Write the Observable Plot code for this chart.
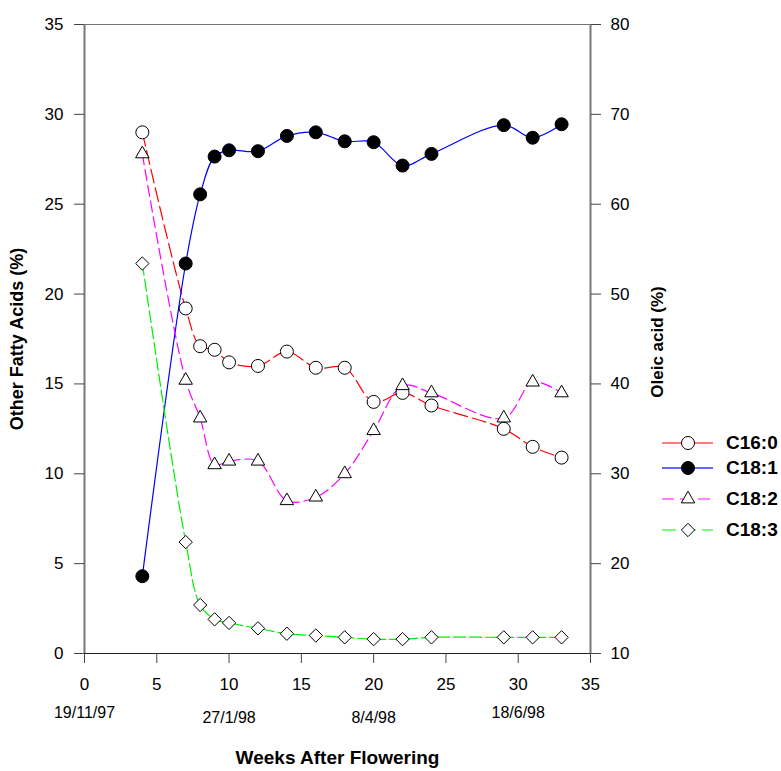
<!DOCTYPE html>
<html><head><meta charset="utf-8">
<script src="https://cdn.jsdelivr.net/npm/d3@7"></script>
<script src="https://cdn.jsdelivr.net/npm/@observablehq/plot@0.6"></script>
<style>
body{margin:0;background:#fff;font-family:Arial,"Liberation Sans",sans-serif;}
#wrap{position:relative;width:781px;height:771px;}
#legend{position:absolute;left:662px;top:0;font-family:Arial,"Liberation Sans",sans-serif;font-weight:bold;font-size:19px;color:#000;}
#legend .row{position:absolute;left:0;display:flex;align-items:center;height:20px;white-space:nowrap;}
#legend svg{display:block;margin-right:12px;}
</style></head><body><div id="wrap"></div>
<script>
// ---- data ----
const weeks = [4, 7, 8, 9, 10, 12, 14, 16, 18, 20, 22, 24, 29, 31, 33];
const c160 = [29.0, 19.2, 17.1, 16.9, 16.2, 16.0, 16.8, 15.9, 15.9, 14.0, 14.5, 13.8, 12.5, 11.5, 10.9];
const c181 = [18.6, 53.4, 61.1, 65.3, 66.0, 65.9, 67.6, 68.0, 67.0, 66.9, 64.3, 65.6, 68.8, 67.4, 68.9];
const c182 = [27.8, 15.2, 13.1, 10.5, 10.7, 10.7, 8.5, 8.7, 10.0, 12.4, 14.9, 14.5, 13.1, 15.1, 14.5];
const c183 = [21.7, 6.2, 2.7, 1.9, 1.7, 1.4, 1.1, 1.0, 0.9, 0.8, 0.8, 0.9, 0.9, 0.9, 0.9];
const xTicks = [0, 5, 10, 15, 20, 25, 30, 35];
const leftTicks = [0, 5, 10, 15, 20, 25, 30, 35];
const rightTicks = [10, 20, 30, 40, 50, 60, 70, 80];
const dateWeeks = [0, 10, 20, 30];
const dateLabels = ["19/11/97", "27/1/98", "8/4/98", "18/6/98"];
const seriesNames = ["C16:0", "C18:1", "C18:2", "C18:3"];

// right axis (oleic 10..80) mapped onto left axis (0..35)
const toLeft = v => (v - 10) / 2;
const fromLeft = v => v * 2 + 10;

const rows = (vals, f = d => d) => weeks.map((w, i) => ({w, v: f(vals[i])}));
const d160 = rows(c160), d181 = rows(c181, toLeft), d182 = rows(c182), d183 = rows(c183);
const dates = dateWeeks.map((w, i) => ({w, label: dateLabels[i]}));

const styles = {
  "C16:0": {stroke: "#ff0000", dash: "14,5", legendDash: null, symbol: "circle", r: 6.5, fill: "white"},
  "C18:1": {stroke: "#0000ff", dash: null, legendDash: null, symbol: "circle", r: 6.5, fill: "black"},
  "C18:2": {stroke: "#ff00ff", dash: "11,5", legendDash: "12,6", symbol: "triangle", r: 5, fill: "white"},
  "C18:3": {stroke: "#00ee00", dash: "12,4", legendDash: "14,6", symbol: "diamond2", r: 6, fill: "white"}
};
const dataBy = {"C16:0": d160, "C18:1": d181, "C18:2": d182, "C18:3": d183};

const marks = [
  Plot.ruleY([35], {stroke: "#777", strokeWidth: 1}),
  Plot.ruleY([0], {stroke: "#222", strokeWidth: 1}),
  Plot.ruleX([0], {stroke: "#777", strokeWidth: 2}),
  Plot.ruleX([35], {stroke: "#777", strokeWidth: 2}),
  Plot.axisX(xTicks, {anchor: "bottom", tickSize: 10, tickPadding: 14, stroke: "#444", fontSize: 17, label: null}),
  Plot.axisY(leftTicks, {anchor: "left", tickSize: 10, tickPadding: 11, stroke: "#444", fontSize: 17, label: null}),
  Plot.axisY(rightTicks.map(toLeft), {anchor: "right", tickSize: 10, tickPadding: 10, stroke: "#444", fontSize: 17, label: null,
    tickFormat: d => String(Math.round(fromLeft(d)))}),
  Plot.text(dates.filter(d => d.w === 0 || d.w === 30), {x: "w", text: "label", frameAnchor: "bottom", dy: 59, fontSize: 16, lineAnchor: "middle"}),
  Plot.text(dates.filter(d => d.w === 10 || d.w === 20), {x: "w", text: "label", frameAnchor: "bottom", dy: 64, fontSize: 16, lineAnchor: "middle"}),
  Plot.text(["Weeks After Flowering"], {frameAnchor: "bottom", dy: 104, fontSize: 19, fontWeight: "bold", lineAnchor: "middle", textAnchor: "middle"}),
  Plot.text(["Other Fatty Acids (%)"], {frameAnchor: "left", dx: -67, rotate: -90, fontSize: 18, fontWeight: "bold", lineAnchor: "middle", textAnchor: "middle"}),
  Plot.text(["Oleic acid (%)"], {frameAnchor: "right", dx: 67, dy: 3, rotate: -90, fontSize: 17, fontWeight: "bold", lineAnchor: "middle", textAnchor: "middle"})
];
for (const name of seriesNames) {
  const s = styles[name];
  marks.push(Plot.line(dataBy[name], {x: "w", y: "v", stroke: s.stroke, strokeWidth: 1.2,
    strokeDasharray: s.dash || undefined, curve: "catmull-rom"}));
}
for (const name of seriesNames) {
  const s = styles[name];
  marks.push(Plot.dot(dataBy[name], {x: "w", y: "v", symbol: s.symbol, r: s.r, fill: s.fill, stroke: "black", strokeWidth: 1}));
}

const chart = Plot.plot({
  width: 781, height: 771,
  marginLeft: 84, marginRight: 191, marginTop: 24, marginBottom: 118,
  style: {fontFamily: "Arial, 'Liberation Sans', sans-serif", fontSize: "17px", color: "#000", background: "#fff"},
  x: {domain: [0, 35], axis: null},
  y: {domain: [0, 35], axis: null},
  marks
});
const wrap = document.getElementById("wrap");
wrap.appendChild(chart);

// legend
const legend = document.createElement("div");
legend.id = "legend";
const rowCenters = [443, 468, 499, 530];
seriesNames.forEach((name, i) => {
  const s = styles[name];
  const row = document.createElement("div");
  row.className = "row";
  row.style.top = (rowCenters[i] - 10) + "px";
  const svg = d3.create("svg").attr("width", 52).attr("height", 20);
  svg.append("line").attr("x1", 0).attr("x2", 51).attr("y1", 10).attr("y2", 10)
    .attr("stroke", s.stroke).attr("stroke-width", name === "C18:1" ? 2 : 1.2)
    .attr("stroke-dasharray", s.legendDash)
    .attr("stroke-opacity", name === "C18:1" ? 0.6 : 1);
  svg.append("path").attr("transform", "translate(26,10)")
    .attr("d", d3.symbol(s.symbol === "circle" ? d3.symbolCircle : s.symbol === "triangle" ? d3.symbolTriangle : d3.symbolDiamond2, s.r * s.r * Math.PI)())
    .attr("fill", s.fill).attr("stroke", "black");
  row.appendChild(svg.node());
  const t = document.createElement("span");
  t.textContent = name;
  row.appendChild(t);
  legend.appendChild(row);
});
wrap.appendChild(legend);
</script>
</body></html>
